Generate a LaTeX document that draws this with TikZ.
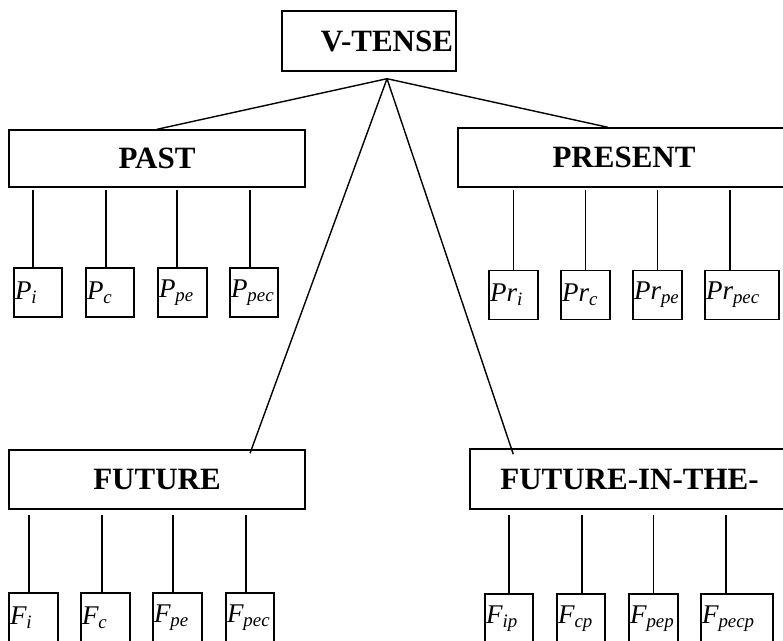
\documentclass[tikz,border=0pt]{standalone}
\usepackage{fontspec}
\setmainfont{Liberation Serif}
\usetikzlibrary{calc}
\tikzset{
  head/.style={draw, inner sep=0pt, font=\fontsize{31}{36}\selectfont\bfseries},
  leaf/.style={draw, inner xsep=1pt, inner ysep=0pt, minimum height=49pt,
    text width=46pt, align=left, font=\fontsize{27}{30}\selectfont\itshape},
}
\newcommand{\tn}[2]{#1\textsubscript{#2}}
\begin{document}
\begin{tikzpicture}[x=1pt, y=-1pt, line width=1.4pt]
\clip (0,0) rectangle (783,640);
% top and the four groups
\node[head, minimum width=174pt, minimum height=60pt, text width=168pt, align=right] (vtense) at (369,41) {V-TENSE};
\node[head, minimum width=296pt, minimum height=57pt] (past) at (157,158.5) {PAST};
\node[head, minimum width=332pt, minimum height=59pt] (present) at (624,157.5) {PRESENT};
\node[head, minimum width=296pt, minimum height=59pt] (future) at (157,479.5) {FUTURE};
\node[head, minimum width=319pt, minimum height=60pt] (fitt) at (629.5,479) {FUTURE-IN-THE-};
\coordinate (apex) at ($(vtense.south)+(18,7)$);
\draw (apex) -- (past.north);
\draw (apex) -- ($(present.north)+(-16,0)$);
\draw (apex) -- ($(future.north)+(93,4)$);
\draw (apex) -- ($(fitt.north west)+(44,6)$);
% past
\node[leaf] (pi) at (38,292.5) {\tn{P}{i}};
\node[leaf] (pc) at (110,292.5) {\tn{P}{c}};
\node[leaf, text width=47pt] (ppe) at (182.5,292.5) {\tn{P}{pe}};
\node[leaf] (ppec) at (254,292.5) {\tn{P}{pec}};
\foreach \leaf/\dx in {pi/-5, pc/-4, ppe/-5.5, ppec/-4}
  \draw ($(\leaf.north)+(\dx,0)$) -- ($(\leaf.north |- past.south)+(\dx,2)$);
% present
\node[leaf, text width=47pt] (pri) at (513.5,295) {\tn{Pr}{i}};
\node[leaf, text width=47pt] (prc) at (585.5,295) {\tn{Pr}{c}};
\node[leaf, text width=47pt] (prpe) at (657.5,295) {\tn{Pr}{pe}};
\node[leaf, text width=72pt] (prpec) at (742,295) {\tn{Pr}{pec}};
\foreach \leaf/\dx in {pri/0, prc/0, prpe/0, prpec/-12}
  \draw ($(\leaf.north)+(\dx,0)$) -- ($(\leaf.north |- present.south)+(\dx,2)$);
% future
\node[leaf, text width=47pt] (fi) at (33.5,617.5) {\tn{F}{i}};
\node[leaf, text width=47pt] (fc) at (105.5,617.5) {\tn{F}{c}};
\node[leaf, text width=47pt] (fpe) at (177.5,617.5) {\tn{F}{pe}};
\node[leaf] (fpec) at (250,617.5) {\tn{F}{pec}};
\foreach \leaf/\dx in {fi/-4.5, fc/-3.5, fpe/-4.5, fpec/-4}
  \draw ($(\leaf.north)+(\dx,0)$) -- ($(\leaf.north |- future.south)+(\dx,5)$);
% future in the past
\node[leaf] (fip) at (509,618.5) {\tn{F}{ip}};
\node[leaf] (fcp) at (581,618.5) {\tn{F}{cp}};
\node[leaf, text width=47pt] (fpep) at (653.5,618.5) {\tn{F}{pep}};
\node[leaf, text width=70pt] (fpecp) at (737,618.5) {\tn{F}{pecp}};
\foreach \leaf/\dx in {fip/0, fcp/1, fpep/0, fpecp/-11}
  \draw ($(\leaf.north)+(\dx,0)$) -- ($(\leaf.north |- fitt.south)+(\dx,5)$);
\end{tikzpicture}
\end{document}
